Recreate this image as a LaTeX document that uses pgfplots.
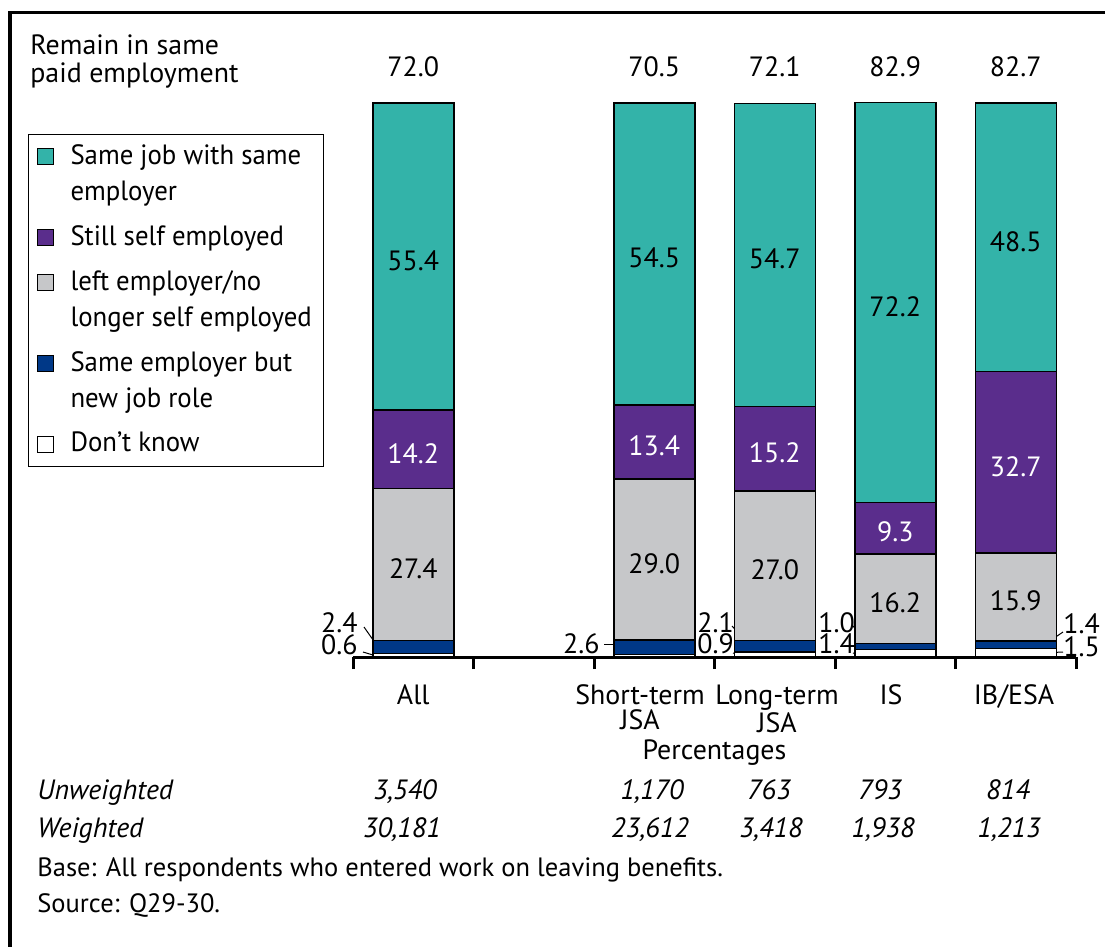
\documentclass[border=0pt]{standalone}
\usepackage{pgfplots}
\pgfplotsset{compat=1.18}
\usepackage{pgfplotstable}
\usepackage{fontspec}
\setmainfont{PT Sans}
\newfontfamily\legendfont{PT Sans}[FakeStretch=0.96]
\definecolor{cteal}{RGB}{51,179,169}
\definecolor{cpurple}{RGB}{90,45,140}
\definecolor{cgray}{RGB}{198,199,201}
\definecolor{cblue}{RGB}{0,56,135}

\pgfplotstableread{
x dk new left self same total
0 0.6 2.4 27.4 14.2 55.4 72.0
2 0.5 2.6 29.0 13.4 54.5 70.5
3 0.9 2.1 27.0 15.2 54.7 72.1
4 1.4 1.0 16.2 9.3 72.2 82.9
5 1.5 1.4 15.9 32.7 48.5 82.7
}\datatable

\pgfplotsset{
  myplot/.style={draw=black, line width=0.75bp,
    legend image code/.code={\draw[##1, line width=0.5bp] (0bp,-4bp) rectangle (8bp,4bp);}},
  myplottwo/.style={draw=black, line width=0.75bp,
    legend image code/.code={\draw[##1, line width=0.5bp] (0bp,5bp) rectangle (8bp,13bp);}},
  seglabel/.style={
    visualization depends on={\thisrow{#1}\as\rawy},
    nodes near coords={\pgfmathprintnumber[fixed,fixed zerofill,precision=1,assume math mode=true]{\rawy}},
    every node near coord/.append style={anchor=center, yshift=-2bp}},
}

\begin{document}
\fontsize{14}{18}\selectfont
\begin{tikzpicture}
\begin{scope}[x=0.5bp,y=-0.5bp]
\useasboundingbox (0,0) rectangle (1105,947);
\draw[line width=1.5bp] (10,950) -- (10,12) -- (1110,12);
\node[anchor=base west, inner sep=0pt] at (30,54) {Remain in same};
\node[anchor=base west, inner sep=0pt] at (30,82) {paid employment};
% small labels with leaders
\begin{scope}[every node/.style={inner sep=0pt}]
\node[anchor=base east] at (358,632) {2.4};
\node[anchor=base east] at (358,654) {0.6};
\draw[line width=0.5bp] (364,627) -- (378,647);
\draw[line width=0.5bp] (363,652) -- (373,655);
\node[anchor=base east] at (600,653) {2.6};
\draw[line width=0.5bp] (604,644) -- (620,644);
\node[anchor=base west] at (697,632) {2.1};
\node[anchor=base west] at (697,653) {0.9};
\draw[line width=0.5bp] (732,626) -- (752,647);
\draw[line width=0.5bp] (733,653) -- (745,656);
\node[anchor=base west] at (818,632) {1.0};
\node[anchor=base west] at (818,653) {1.4};
\draw[line width=0.5bp] (852,625) -- (872,647);
\draw[line width=0.5bp] (853,653) -- (865,656);
\node[anchor=base west] at (1063,633) {1.4};
\node[anchor=base west] at (1063,656) {1.5};
\draw[line width=0.5bp] (1063,632) -- (1041,647);
\draw[line width=0.5bp] (1063,652) -- (1042,653);
% sample size rows
\node[anchor=base west] at (37,799) {\itshape Unweighted};
\node[anchor=base west] at (37,837) {\itshape Weighted};
\node[anchor=base] at (405,799) {\itshape 3,540};
\node[anchor=base] at (652,799) {\itshape 1,170};
\node[anchor=base] at (769,799) {\itshape 763};
\node[anchor=base] at (880,799) {\itshape 793};
\node[anchor=base] at (1008,799) {\itshape 814};
\node[anchor=base] at (402,837) {\itshape 30,181};
\node[anchor=base] at (650,837) {\itshape 23,612};
\node[anchor=base] at (771,837) {\itshape 3,418};
\node[anchor=base] at (883,837) {\itshape 1,938};
\node[anchor=base] at (1009,837) {\itshape 1,213};
\node[anchor=base west, font=\fontsize{13.3}{16}\selectfont] at (37,876) {Base: All respondents who entered work on leaving benefits.};
\node[anchor=base west, font=\fontsize{13.3}{16}\selectfont] at (37,912) {Source: Q29-30.};
\end{scope}
\end{scope}
\begin{axis}[
  at={(176.5bp,-328.5bp)}, anchor=south west,
  scale only axis, width=361.5bp, height=277bp,
  xmin=-0.5, xmax=5.5, ymin=0, ymax=100,
  axis x line*=bottom, axis y line=none,
  x axis line style={line width=1.5bp},
  ybar stacked, bar width=40.5bp,
  clip=false,
  tick align=outside,
  xtick={0,1.882,3.019,3.965,4.985},
  xticklabels={All,Short-term\\JSA,Long-term\\JSA,IS,IB/ESA},
  x tick label style={align=center, font=\fontsize{14}{12.5}\selectfont, yshift=-9bp},
  major tick length=0pt,
  tick style={line width=1.5bp, black},
  extra x ticks={-0.5,0.5,1.5,2.5,3.5,4.5,5.5},
  extra x tick labels={{},{},{},{},{},{},{}},
  extra x tick style={major tick length=6bp},
  ytick=\empty,
  xlabel={Percentages},
  x label style={at={(axis description cs:0.5,0)}, anchor=base, yshift=-51bp},
  legend style={at={(axis description cs:-0.4495,0.944)}, anchor=north west,
    draw=black, line width=0.5bp, inner xsep=4bp, inner ysep=3bp, row sep=6.5bp,
    column sep=6.5bp,
    nodes={align=left},
    font=\legendfont\fontsize{14}{18}\selectfont},
  legend cell align=left,
  reverse legend,
]
\addplot[myplot, fill=white] table[x=x,y=dk]{\datatable};
\addlegendentry{Don’t know}
\addplot[myplottwo, fill=cblue] table[x=x,y=new]{\datatable};
\addlegendentry{Same employer but\\new job role}
\addplot[myplottwo, fill=cgray, seglabel=left] table[x=x,y=left]{\datatable};
\addlegendentry{left employer/no\\longer self employed}
\addplot[myplot, fill=cpurple, seglabel=self, every node near coord/.append style={text=white}] table[x=x,y=self]{\datatable};
\addlegendentry{Still self employed}
\addplot[myplottwo, fill=cteal, seglabel=same] table[x=x,y=same]{\datatable};
\addlegendentry{Same job with same\\employer}
\node[anchor=base, inner sep=0pt] at (axis cs:0,104.7) {72.0};
\node[anchor=base, inner sep=0pt] at (axis cs:2,104.7) {70.5};
\node[anchor=base, inner sep=0pt] at (axis cs:3,104.7) {72.1};
\node[anchor=base, inner sep=0pt] at (axis cs:4,104.7) {82.9};
\node[anchor=base, inner sep=0pt] at (axis cs:5,104.7) {82.7};
\end{axis}
\end{tikzpicture}
\end{document}
